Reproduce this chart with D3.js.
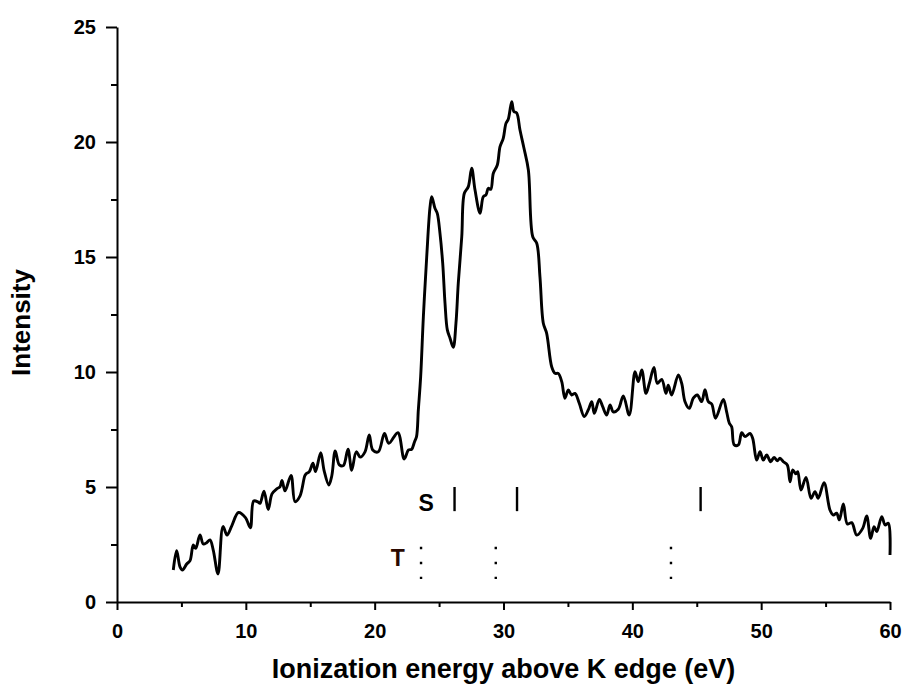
<!DOCTYPE html>
<html>
<head>
<meta charset="utf-8">
<script src="https://cdn.jsdelivr.net/npm/d3@7"></script>
<style>
  body { margin: 0; background: #fff; }
  svg text { font-family: "Liberation Sans", Arial, sans-serif; font-weight: bold; }
</style>
</head>
<body>
<div id="chart"></div>
<script>
// spectrum: energy (eV) and intensity
const energy = [4.37, 4.63, 4.89, 5.08, 5.41, 5.67, 5.92, 6.11, 6.44, 6.70, 6.96, 7.22, 7.47, 7.84, 8.23, 8.54, 8.90, 9.43, 9.97, 10.35,
  10.61, 10.94, 11.10, 11.41, 11.74, 12.03, 12.40, 12.65, 12.81, 13.04, 13.51, 13.82, 14.20, 14.57, 14.67, 14.93, 15.21, 15.41, 15.81, 16.08,
  16.44, 16.67, 16.94, 17.26, 17.57, 17.93, 18.22, 18.57, 18.88, 19.25, 19.58, 19.85, 20.28, 20.76, 21.10, 21.80, 22.29, 22.63, 22.87, 23.09,
  23.25, 23.39, 23.57, 23.78, 24.04, 24.30, 24.43, 24.68, 24.86, 25.07, 25.28, 25.46, 25.64, 25.85, 26.10, 26.31, 26.49, 26.76, 26.96, 27.27,
  27.53, 27.79, 28.18, 28.43, 28.64, 28.82, 29.01, 29.21, 29.52, 29.73, 29.98, 30.19, 30.37, 30.64, 30.81, 31.02, 31.28, 31.59, 31.93, 32.27,
  32.58, 32.83, 33.09, 33.35, 33.74, 34.00, 34.25, 34.52, 34.77, 35.03, 35.29, 35.55, 35.88, 36.27, 36.58, 36.85, 37.05, 37.44, 37.70, 38.01,
  38.27, 38.52, 38.91, 39.30, 39.76, 40.21, 40.46, 40.73, 41.06, 41.32, 41.68, 41.94, 42.28, 42.61, 42.79, 43.05, 43.57, 43.83, 44.09, 44.42,
  44.73, 45.04, 45.38, 45.64, 45.90, 46.16, 46.46, 47.06, 47.32, 47.53, 47.71, 47.91, 48.23, 48.49, 48.75, 49.13, 49.34, 49.65, 49.91, 50.17,
  50.43, 50.74, 51.00, 51.25, 51.46, 51.72, 52.03, 52.24, 52.45, 52.70, 52.84, 53.09, 53.48, 53.87, 54.18, 54.43, 54.88, 55.34, 55.60, 55.86,
  56.07, 56.38, 56.69, 57.03, 57.42, 57.88, 58.19, 58.50, 58.76, 58.97, 59.36, 59.62, 59.87, 60.00];
const intensity = [1.39, 2.23, 1.53, 1.39, 1.65, 1.80, 2.48, 2.33, 2.91, 2.52, 2.58, 2.70, 2.26, 1.22, 3.28, 2.91, 3.30, 3.89, 3.67, 3.23,
  4.39, 4.35, 4.29, 4.82, 4.02, 4.70, 4.92, 5.01, 5.29, 4.83, 5.50, 4.36, 4.60, 5.48, 5.57, 5.67, 6.03, 5.67, 6.49, 5.70,
  5.09, 5.48, 6.57, 5.96, 5.93, 6.64, 5.73, 6.53, 6.30, 6.53, 7.26, 6.61, 6.53, 7.33, 6.90, 7.36, 6.22, 6.61, 6.64, 6.96,
  7.19, 8.35, 9.80, 12.40, 15.01, 17.19, 17.62, 17.12, 16.90, 16.03, 14.73, 12.99, 11.83, 11.47, 11.07, 12.12, 13.86, 15.88, 17.77, 18.06,
  18.86, 17.91, 16.90, 17.62, 17.70, 17.99, 17.94, 18.64, 19.00, 19.80, 20.16, 20.81, 20.99, 21.75, 21.32, 21.27, 20.52, 19.73, 18.78, 15.88,
  15.60, 14.14, 12.12, 11.68, 10.23, 9.94, 9.94, 9.58, 8.86, 9.22, 9.00, 9.07, 8.64, 8.06, 8.35, 8.71, 8.20, 8.81, 8.49, 8.13,
  8.57, 8.27, 8.38, 8.96, 8.13, 10.01, 9.58, 10.09, 9.07, 9.51, 10.20, 9.51, 9.68, 9.07, 9.43, 9.00, 9.87, 9.51, 8.71, 8.42,
  8.86, 9.00, 8.71, 9.23, 8.71, 8.61, 7.99, 8.81, 8.27, 7.77, 7.62, 6.83, 6.83, 7.36, 7.19, 7.33, 7.12, 6.17, 6.53, 6.17,
  6.39, 6.10, 6.29, 6.14, 6.25, 6.10, 5.96, 5.23, 5.74, 5.57, 5.67, 4.87, 5.42, 4.51, 4.80, 4.51, 5.19, 4.00, 3.78, 3.86,
  3.57, 4.26, 3.39, 3.45, 2.91, 3.20, 3.74, 2.77, 3.27, 3.06, 3.71, 3.35, 3.42, 2.04];

// S (solid) and T (dotted) markers
const sPositions = [26.2, 31.05, 45.3];
const tPositions = [23.6, 29.4, 43.0];
const sRange = [3.95, 5.0];
const tRange = [1.0, 2.4];

const xTicks = [0, 10, 20, 30, 40, 50, 60];
const yTicks = [0, 5, 10, 15, 20, 25];

const W = 904, H = 686;
const margin = { top: 27, right: 14, bottom: 84, left: 117 };

const svg = d3.select("#chart").append("svg")
  .attr("width", W)
  .attr("height", H);

const x = d3.scaleLinear().domain([0, 60]).range([margin.left, W - margin.right]);
const y = d3.scaleLinear().domain([0, 25]).range([H - margin.bottom, margin.top]);

// minor ticks
svg.append("g")
  .attr("transform", `translate(0,${y(0)})`)
  .call(d3.axisBottom(x).tickValues(d3.range(5, 60, 10)).tickSize(5).tickFormat(""))
  .call(g => g.select(".domain").remove())
  .selectAll("line").attr("stroke-width", 2);

svg.append("g")
  .attr("transform", `translate(${x(0)},0)`)
  .call(d3.axisLeft(y).tickValues(d3.range(2.5, 25, 5)).tickSize(6).tickFormat(""))
  .call(g => g.select(".domain").remove())
  .selectAll("line").attr("stroke-width", 2);

const xAxis = svg.append("g")
  .attr("transform", `translate(0,${y(0)})`)
  .call(d3.axisBottom(x).tickValues(xTicks).tickSize(8).tickSizeOuter(0).tickPadding(14));

const yAxis = svg.append("g")
  .attr("transform", `translate(${x(0)},0)`)
  .call(d3.axisLeft(y).tickValues(yTicks).tickSize(11).tickSizeOuter(0).tickPadding(10));

[xAxis, yAxis].forEach(g => {
  g.select(".domain").attr("stroke-width", 2);
  g.selectAll("line").attr("stroke-width", 2);
  g.selectAll("text")
    .attr("font-size", 20)
    .attr("fill", "#000")
    .style("font-family", "'Liberation Sans', Arial, sans-serif")
    .style("font-weight", "bold");
});

// spectrum
const line = d3.line()
  .x((d, i) => x(energy[i]))
  .y(d => y(d))
  .curve(d3.curveCatmullRom.alpha(0.5));

svg.append("path")
  .datum(intensity)
  .attr("fill", "none")
  .attr("stroke", "#000")
  .attr("stroke-width", 2.9)
  .attr("stroke-linejoin", "round")
  .attr("d", line);

// S markers
svg.selectAll(".s-mark")
  .data(sPositions)
  .enter().append("line")
  .attr("x1", d => x(d)).attr("x2", d => x(d))
  .attr("y1", y(sRange[0])).attr("y2", y(sRange[1]))
  .attr("stroke", "#000")
  .attr("stroke-width", 2.4);

svg.append("text")
  .attr("x", x(24.0))
  .attr("y", y(3.95))
  .attr("text-anchor", "middle")
  .attr("font-size", 23)
  .text("S");

// T markers
svg.selectAll(".t-mark")
  .data(tPositions)
  .enter().append("line")
  .attr("x1", d => x(d)).attr("x2", d => x(d))
  .attr("y1", y(tRange[1])).attr("y2", y(tRange[0]))
  .attr("stroke", "#000")
  .attr("stroke-width", 2.4)
  .attr("stroke-dasharray", "2.4,12.6");

svg.append("text")
  .attr("x", x(21.8))
  .attr("y", y(1.55))
  .attr("text-anchor", "middle")
  .attr("font-size", 23)
  .attr("fill", "#2a0800")
  .text("T");

// axis titles
svg.append("text")
  .attr("x", (x(0) + x(60)) / 2)
  .attr("y", 678)
  .attr("text-anchor", "middle")
  .attr("font-size", 27)
  .text("Ionization energy above K edge (eV)");

svg.append("text")
  .attr("transform", `translate(30,${(y(0) + y(25)) / 2 + 8}) rotate(-90)`)
  .attr("text-anchor", "middle")
  .attr("font-size", 26)
  .text("Intensity");
</script>
</body>
</html>
